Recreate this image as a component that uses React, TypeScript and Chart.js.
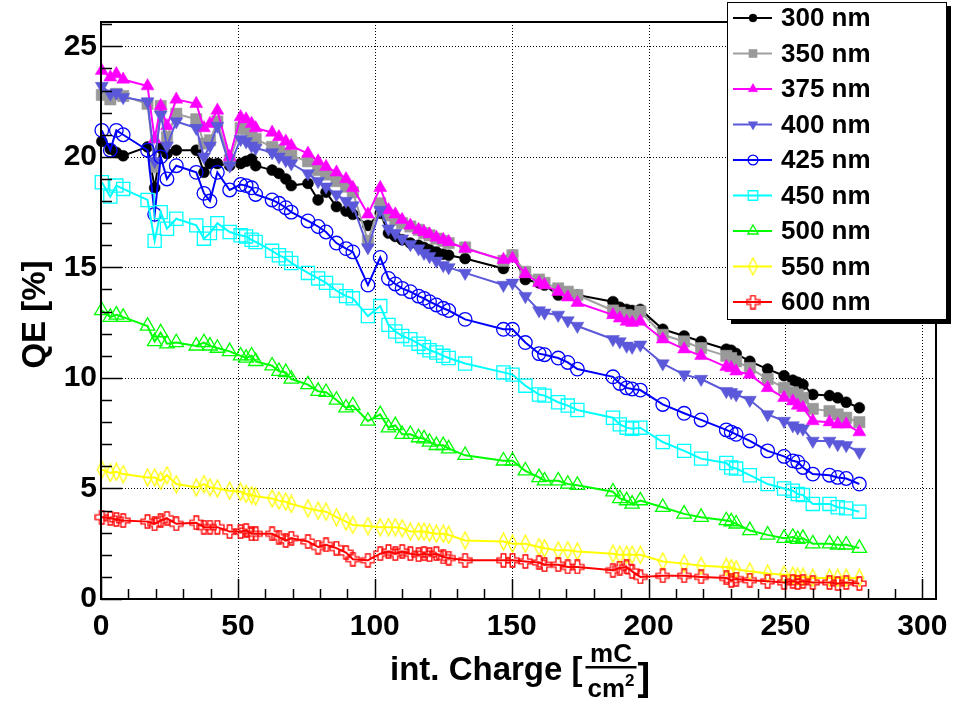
import React, { useEffect, useRef } from 'react';
import { Chart, registerables } from 'chart.js';
import { drawPoint } from 'chart.js/helpers';

Chart.register(...registerables);

// ---- data ----
const X = [
  0.3, 3.4, 5.6, 8.1, 17, 19.6, 21.8, 24.1, 27.5, 34.8,
  37.6, 39.8, 42.5, 47, 51, 53, 55, 56.5, 62.5, 65,
  67.5, 69.5, 75.6, 79.3, 82.2, 86, 89.5, 92, 97.5, 102,
  105, 107.5, 110, 113, 116, 118, 120, 122.5, 125, 127,
  133, 147, 150.3, 155, 160, 162, 167, 170.5, 174, 187,
  189.5, 192, 194, 197, 205.2, 213, 219.2, 228.4, 230.2, 232,
  237, 243.5, 249.5, 252.7, 254.5, 256.4, 260, 266.1, 269.1, 272.2,
  277,
];

const Q300 = [
  20.7, 20.35, 20.2, 20.05, 20.45, 18.6, 20.4, 20.15, 20.3, 20.3,
  19.3, 19.7, 19.7, 19.6, 19.7, 19.8, 19.9, 19.6, 19.4, 19.25,
  19.0, 18.7, 18.8, 18.05, 18.4, 17.75, 17.55, 17.4, 16.9, 17.45,
  16.55, 16.4, 16.25, 16.1, 16.0, 15.9, 15.8, 15.7, 15.6, 15.55,
  15.4, 14.95, 15.55, 14.45, 14.3, 14.2, 13.75, 13.8, 13.75, 13.45,
  13.2, 13.1, 13.05, 13.1, 12.2, 11.9, 11.65, 11.3, 11.25, 11.1,
  10.75, 10.4, 10.1, 9.9, 9.8, 9.7, 9.25, 9.2, 9.1, 8.9,
  8.65,
];

const Q350 = [
  22.8, 22.6, 22.85, 22.75, 22.4, 19.55, 22.3, 20.9, 21.95, 21.7,
  20.6, 20.75, 21.6, 19.85, 21.3, 21.25, 20.9, 20.8, 20.45, 20.3,
  20.15, 20.05, 19.8, 19.4, 19.2, 18.9, 18.65, 18.4, 16.2, 17.9,
  17.35, 17.15, 17.0, 16.85, 16.7, 16.55, 16.45, 16.3, 16.2, 16.1,
  15.9, 15.3, 15.55, 14.8, 14.45, 14.3, 14.05, 13.9, 13.75, 13.05,
  12.95, 12.85, 12.8, 13.0, 11.95, 11.65, 11.35, 11.0, 10.9, 10.75,
  10.45, 9.95, 9.55, 9.35, 9.25, 9.1, 8.6, 8.5, 8.35, 8.2,
  8.0,
];

const Q375 = [
  23.9, 23.6, 23.75, 23.5, 23.2, 20.8, 22.3, 21.4, 22.6, 22.4,
  21.3, 21.5, 22.1, 20.0, 21.8, 21.7, 21.5, 21.3, 21.1, 20.9,
  20.7, 20.5, 20.15, 19.8, 19.55, 19.3, 19.0, 18.6, 17.4, 18.6,
  17.6, 17.4, 17.15, 16.9, 16.7, 16.6, 16.5, 16.35, 16.25, 16.15,
  15.85, 15.35, 15.4, 14.7, 14.3, 14.2, 13.9, 13.65, 13.4, 12.85,
  12.7, 12.55, 12.5, 12.55, 11.75, 11.3, 11.0, 10.5, 10.45, 10.3,
  10.15, 9.55, 9.1, 8.95, 8.75, 8.65, 8.05, 8.0, 7.9, 7.9,
  7.55,
];

const Q400 = [
  23.2, 22.85, 22.9, 22.7, 22.5, 19.8, 21.9, 20.5, 21.6, 21.3,
  20.0, 20.5, 21.4, 19.6, 20.8, 20.7, 20.5, 20.4, 20.2, 20.0,
  19.85, 19.7, 19.25, 18.9, 18.65, 18.3, 18.0, 17.8, 15.9, 17.6,
  16.75, 16.55, 16.3, 16.05, 15.85, 15.65, 15.5, 15.3, 15.1, 15.0,
  14.75, 14.2, 14.3, 13.7, 13.05, 12.95, 12.85, 12.6, 12.35, 11.75,
  11.65, 11.45, 11.4, 11.5, 10.65, 10.15, 9.95, 9.4, 9.35, 9.25,
  9.0, 8.35, 8.05, 7.85, 7.75, 7.7, 7.15, 7.15, 7.0, 6.95,
  6.65,
];

const Q425 = [
  21.2, 20.3, 21.2, 21.0, 20.3, 17.4, 20.0, 19.0, 19.6, 19.3,
  18.35, 18.0, 19.3, 18.5, 18.75, 18.7, 18.6, 18.3, 18.05, 17.9,
  17.7, 17.5, 17.1, 16.85, 16.6, 16.1, 15.85, 15.7, 14.2, 15.45,
  14.5, 14.25, 14.05, 13.9, 13.7, 13.6, 13.45, 13.3, 13.15, 13.05,
  12.65, 12.2, 12.2, 11.6, 11.1, 11.05, 10.9, 10.7, 10.4, 10.05,
  9.75, 9.55, 9.5, 9.45, 8.8, 8.4, 8.1, 7.65, 7.55, 7.45,
  7.15, 6.7, 6.45, 6.25, 6.2, 5.95, 5.65, 5.6, 5.5, 5.45,
  5.2,
];

const Q450 = [
  18.85, 18.2, 18.7, 18.55, 18.05, 16.2, 17.5, 16.75, 17.2, 16.9,
  16.3, 16.55, 17.0, 16.6, 16.45, 16.4, 16.25, 16.15, 15.75, 15.55,
  15.4, 15.2, 14.75, 14.5, 14.3, 13.95, 13.7, 13.6, 12.8, 13.25,
  12.4, 12.1, 11.9, 11.75, 11.55, 11.4, 11.25, 11.15, 11.0, 10.9,
  10.65, 10.25, 10.15, 9.65, 9.25, 9.2, 8.9, 8.75, 8.55, 8.2,
  7.9, 7.75, 7.7, 7.75, 7.1, 6.7, 6.35, 6.15, 5.95, 5.9,
  5.6, 5.2, 5.0, 4.9, 4.75, 4.7, 4.3, 4.3, 4.15, 4.1,
  3.95,
];

const Q500 = [
  13.05, 12.75, 12.85, 12.75, 12.35, 11.65, 12.05, 11.55, 11.6, 11.45,
  11.6, 11.45, 11.35, 11.2, 11.0, 10.9, 11.0, 10.75, 10.55, 10.3,
  10.25, 9.95, 9.7, 9.4, 9.35, 9.0, 8.65, 8.75, 8.05, 8.35,
  7.75, 7.85, 7.45, 7.45, 7.3, 7.25, 7.1, 6.95, 6.95, 6.8,
  6.5, 6.25, 6.25, 5.8, 5.5, 5.35, 5.35, 5.2, 5.15, 4.85,
  4.55, 4.45, 4.3, 4.45, 4.15, 3.85, 3.7, 3.55, 3.5, 3.4,
  3.1, 2.9, 2.75, 2.8, 2.7, 2.75, 2.5, 2.5, 2.45, 2.45,
  2.3,
];

const Q550 = [
  5.85, 5.7, 5.75, 5.65, 5.5, 5.5, 5.35, 5.6, 5.2, 5.05,
  5.2, 5.05, 5.0, 4.9, 4.85, 4.75, 4.7, 4.65, 4.55, 4.45,
  4.4, 4.3, 4.1, 4.0, 3.95, 3.7, 3.5, 3.35, 3.3, 3.25,
  3.25, 3.25, 3.2, 3.05, 3.05, 3.05, 3.0, 2.95, 2.95, 2.9,
  2.65, 2.6, 2.5, 2.5, 2.35, 2.3, 2.2, 2.2, 2.15, 2.05,
  2.0, 2.0, 2.0, 2.0, 1.7, 1.6, 1.5, 1.45, 1.4, 1.35,
  1.25, 1.15, 1.1, 1.05, 1.0, 1.0, 0.95, 0.95, 0.95, 0.95,
  0.95,
];

const Q600 = [
  3.7, 3.65, 3.6, 3.55, 3.5, 3.4, 3.55, 3.65, 3.4, 3.45,
  3.25, 3.25, 3.25, 3.05, 3.05, 3.1, 2.95, 2.95, 2.95, 2.8,
  2.65, 2.75, 2.6, 2.35, 2.45, 2.3, 2.1, 1.8, 1.75, 2.05,
  2.15, 2.05, 2.15, 2.05, 2.0, 2.05, 2.0, 2.05, 1.9, 1.85,
  1.75, 1.75, 1.75, 1.7, 1.65, 1.55, 1.55, 1.45, 1.45, 1.3,
  1.4, 1.45, 1.25, 1.0, 1.05, 1.05, 1.0, 0.95, 0.85, 0.9,
  0.85, 0.8, 0.75, 0.8, 0.75, 0.8, 0.75, 0.75, 0.7, 0.75,
  0.7,
];

const LABELS = ['300 nm', '350 nm', '375 nm', '400 nm', '425 nm', '450 nm', '500 nm', '550 nm', '600 nm'];
const VALUES = [Q300, Q350, Q375, Q400, Q425, Q450, Q500, Q550, Q600];

const X_TICKS = [0, 50, 100, 150, 200, 250, 300];
const Y_TICKS = [0, 5, 10, 15, 20, 25];
const X_RANGE = [0, 305];
const Y_RANGE = [0, 26.1];
const X_MINOR_STEP = 10;
const Y_MINOR_STEP = 1;

const Y_TITLE = 'QE [%]';
const X_TITLE = 'int. Charge [';
const X_UNIT_NUM = 'mC';
const X_UNIT_DEN = 'cm';
const X_UNIT_EXP = '2';

// ---- styles ----
const FONT = '"Liberation Sans", Arial, Helvetica, sans-serif';

function makeDiamond(color: string) {
  const c = document.createElement('canvas');
  c.width = 11; c.height = 19;
  const g = c.getContext('2d')!;
  g.strokeStyle = color; g.lineWidth = 1.3;
  g.beginPath();
  g.moveTo(5.5, 1); g.lineTo(9.8, 9.5); g.lineTo(5.5, 18); g.lineTo(1.2, 9.5);
  g.closePath(); g.stroke();
  return c;
}

function makeCross(color: string) {
  const c = document.createElement('canvas');
  c.width = 15; c.height = 15;
  const g = c.getContext('2d')!;
  g.strokeStyle = color; g.lineWidth = 1.3;
  const a = 5.2, b = 9.8, lo = 1, hi = 14;
  g.beginPath();
  g.moveTo(a, lo); g.lineTo(b, lo); g.lineTo(b, a); g.lineTo(hi, a); g.lineTo(hi, b);
  g.lineTo(b, b); g.lineTo(b, hi); g.lineTo(a, hi); g.lineTo(a, b); g.lineTo(lo, b);
  g.lineTo(lo, a); g.lineTo(a, a); g.closePath(); g.stroke();
  return c;
}

type Style = { color: string; line: string; shape: any; radius: number; rotation: number; filled: boolean };

function buildStyles(): Style[] {
  return [
    { color: '#000000', line: '#000000', shape: 'circle', radius: 5.5, rotation: 0, filled: true },
    { color: '#999999', line: '#a0a0a0', shape: 'rect', radius: 8, rotation: 0, filled: true },
    { color: '#ff00ff', line: '#ff00ff', shape: 'triangle', radius: 7.5, rotation: 0, filled: true },
    { color: '#5b58d9', line: '#5b58d9', shape: 'triangle', radius: 7.5, rotation: 180, filled: true },
    { color: '#0000ff', line: '#0000ff', shape: 'circle', radius: 6.8, rotation: 0, filled: false },
    { color: '#00ffff', line: '#00ffff', shape: 'rect', radius: 9.3, rotation: 0, filled: false },
    { color: '#00ff00', line: '#00ff00', shape: 'triangle', radius: 8.3, rotation: 0, filled: false },
    { color: '#ffff00', line: '#ffff00', shape: makeDiamond('#ffff00'), radius: 7, rotation: 0, filled: false },
    { color: '#ff0000', line: '#ff0000', shape: makeCross('#ff0000'), radius: 7, rotation: 0, filled: false },
  ];
}

export default function App() {
  const ref = useRef<HTMLCanvasElement | null>(null);

  useEffect(() => {
    if (!ref.current) return;
    const styles = buildStyles();

    const datasets = VALUES.map((vals, i) => {
      const s = styles[i];
      return {
        label: LABELS[i],
        data: X.map((x, k) => ({ x, y: vals[k] })),
        borderColor: s.line,
        borderWidth: 2,
        backgroundColor: s.filled ? s.color : 'rgba(0,0,0,0)',
        pointStyle: s.shape,
        pointRadius: s.radius,
        pointRotation: s.rotation,
        pointBorderColor: s.color,
        pointBackgroundColor: s.filled ? s.color : 'rgba(0,0,0,0)',
        pointBorderWidth: s.filled ? 0.5 : 1.3,
        tension: 0,
        fill: false,
        clip: false as any,
        order: -i,
      };
    });

    const rootPlugin = {
      id: 'rootStyle',
      beforeDatasetsDraw(chart: any) {
        const { ctx, chartArea: a, scales } = chart;
        const xs = scales.x, ys = scales.y;
        ctx.save();
        ctx.strokeStyle = '#000';
        ctx.lineWidth = 1;
        ctx.setLineDash([1, 2]);
        X_TICKS.forEach((v) => {
          if (v === X_RANGE[0]) return;
          const px = Math.round(xs.getPixelForValue(v)) + 0.5;
          ctx.beginPath(); ctx.moveTo(px, a.top); ctx.lineTo(px, a.bottom); ctx.stroke();
        });
        Y_TICKS.forEach((v) => {
          if (v === Y_RANGE[0]) return;
          const py = Math.round(ys.getPixelForValue(v)) + 0.5;
          ctx.beginPath(); ctx.moveTo(a.left, py); ctx.lineTo(a.right, py); ctx.stroke();
        });
        ctx.restore();
      },
      afterDatasetsDraw(chart: any) {
        const { ctx, chartArea: a, scales } = chart;
        const xs = scales.x, ys = scales.y;
        ctx.save();
        ctx.setLineDash([]);
        ctx.strokeStyle = '#000';
        ctx.lineWidth = 2;
        ctx.strokeRect(a.left, a.top, a.right - a.left, a.bottom - a.top);
        for (let v = Y_RANGE[0]; v <= Y_RANGE[1] + 1e-9; v += Y_MINOR_STEP) {
          const major = Y_TICKS.includes(Math.round(v * 100) / 100);
          const py = Math.round(ys.getPixelForValue(v)) + 0.5;
          ctx.lineWidth = 1.5;
          ctx.beginPath(); ctx.moveTo(a.left, py); ctx.lineTo(a.left + (major ? 21 : 11), py); ctx.stroke();
        }
        for (let v = X_RANGE[0]; v <= X_RANGE[1] + 1e-9; v += X_MINOR_STEP) {
          const major = X_TICKS.includes(Math.round(v));
          const px = Math.round(xs.getPixelForValue(v)) + 0.5;
          ctx.lineWidth = 1.5;
          ctx.beginPath(); ctx.moveTo(px, a.bottom); ctx.lineTo(px, a.bottom - (major ? 20 : 10)); ctx.stroke();
        }
        ctx.restore();
      },
      afterDraw(chart: any) {
        const { ctx, chartArea: a } = chart;
        ctx.save();
        ctx.fillStyle = '#000';
        // y title
        ctx.save();
        ctx.translate(36, (a.top + a.bottom) / 2 + 4);
        ctx.rotate(-Math.PI / 2);
        ctx.font = `bold 33px ${FONT}`;
        ctx.textAlign = 'center';
        ctx.textBaseline = 'middle';
        ctx.fillText(Y_TITLE, 0, 0);
        ctx.restore();
        // x title
        ctx.font = `bold 33px ${FONT}`;
        ctx.textAlign = 'left';
        ctx.textBaseline = 'alphabetic';
        const tx = 390, ty = 680;
        ctx.fillText(X_TITLE, tx, ty);
        const w0 = ctx.measureText(X_TITLE).width;
        const fx = tx + w0 + 3;
        ctx.font = `bold 26px ${FONT}`;
        const wNum = ctx.measureText(X_UNIT_NUM).width;
        const wDen = ctx.measureText(X_UNIT_DEN).width;
        ctx.font = `bold 17px ${FONT}`;
        const wExp = ctx.measureText(X_UNIT_EXP).width;
        const fw = Math.max(wNum, wDen + wExp) + 4;
        ctx.font = `bold 26px ${FONT}`;
        ctx.fillText(X_UNIT_NUM, fx + (fw - wNum) / 2, 662);
        ctx.fillRect(fx, 666, fw, 2.5);
        const dx = fx + (fw - wDen - wExp) / 2;
        ctx.fillText(X_UNIT_DEN, dx, 697);
        ctx.font = `bold 17px ${FONT}`;
        ctx.fillText(X_UNIT_EXP, dx + wDen, 686);
        ctx.font = `bold 38px ${FONT}`;
        ctx.fillText(']', fx + fw + 1, 690);

        // legend
        const lx = 727, ly = 2, lw = 220, lh = 318;
        ctx.fillStyle = '#000';
        ctx.fillRect(lx + 4, ly + 4, lw, lh);
        ctx.fillStyle = '#fff';
        ctx.fillRect(lx, ly, lw, lh);
        ctx.strokeStyle = '#000';
        ctx.lineWidth = 1;
        ctx.strokeRect(lx + 0.5, ly + 0.5, lw - 1, lh - 1);
        const rowH = 35.5;
        chart.data.datasets.forEach((ds: any, i: number) => {
          const s = styles[i];
          const cy = 18 + i * rowH;
          ctx.strokeStyle = s.line;
          ctx.lineWidth = 2;
          ctx.beginPath(); ctx.moveTo(733, cy); ctx.lineTo(772, cy); ctx.stroke();
          ctx.fillStyle = s.filled ? s.color : 'rgba(0,0,0,0)';
          ctx.strokeStyle = s.color;
          ctx.lineWidth = s.filled ? 0.5 : 1.3;
          drawPoint(ctx, { pointStyle: s.shape, rotation: s.rotation, radius: s.radius * 0.72, borderWidth: ctx.lineWidth }, 753, cy);
          ctx.fillStyle = '#000';
          ctx.font = `bold 26px ${FONT}`;
          ctx.textAlign = 'left';
          ctx.textBaseline = 'middle';
          ctx.fillText(ds.label, 781, cy + 1);
        });
        ctx.restore();
      },
    };

    const chart = new Chart(ref.current, {
      type: 'line',
      data: { datasets: datasets as any },
      options: {
        animation: false,
        responsive: false,
        devicePixelRatio: 1,
        layout: { padding: { left: 0, right: 29, top: 20, bottom: 0 } },
        plugins: { legend: { display: false }, tooltip: { enabled: false }, title: { display: false } },
        scales: {
          x: {
            type: 'linear',
            min: X_RANGE[0],
            max: X_RANGE[1],
            grid: { display: false, drawTicks: false },
            border: { display: false },
            ticks: {
              color: '#000',
              padding: 10,
              maxRotation: 0,
              autoSkip: false,
              font: { family: FONT, size: 30, weight: 'bold' },
            },
            afterBuildTicks: (scale: any) => { scale.ticks = X_TICKS.map((v) => ({ value: v })); },
            afterFit: (scale: any) => { scale.height = 109; },
          },
          y: {
            type: 'linear',
            min: Y_RANGE[0],
            max: Y_RANGE[1],
            grid: { display: false, drawTicks: false },
            border: { display: false },
            ticks: {
              color: '#000',
              padding: 4,
              autoSkip: false,
              font: { family: FONT, size: 30, weight: 'bold' },
            },
            afterBuildTicks: (scale: any) => { scale.ticks = Y_TICKS.map((v) => ({ value: v })); },
            afterFit: (scale: any) => { scale.width = 101; },
          },
        },
      } as any,
      plugins: [rootPlugin],
    });

    return () => chart.destroy();
  }, []);

  return (
    <div style={{ position: 'absolute', left: 0, top: 0, width: 965, height: 708, background: '#fff' }}>
      <canvas ref={ref} width={965} height={708} style={{ display: 'block', width: 965, height: 708 }} />
    </div>
  );
}
